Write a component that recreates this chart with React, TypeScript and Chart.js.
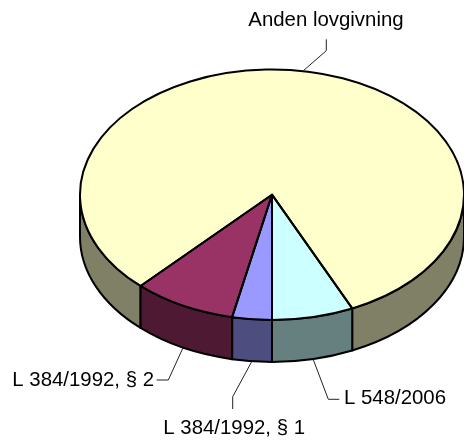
import React, { useEffect, useRef } from "react";
import { Chart, registerables } from "chart.js";

Chart.register(...registerables);

const categories = ["Anden lovgivning", "L 548/2006", "L 384/1992, § 1", "L 384/1992, § 2"];
const shares = [81.14, 6.86, 3.33, 8.67];
const topColors = ["#FFFFCC", "#CCFFFF", "#9999FF", "#993366"];
const sideColors = ["#808066", "#668080", "#4D4D80", "#4D1933"];

const FIRST_SLICE_ROTATION = 223.2;
const CENTER_Y = 194.7;
const SQUASH = 0.652;
const DEPTH = 42;
const FONT = '20.4px "Liberation Sans", Arial, sans-serif';

// Per-category label layout: elbow and end of the leader, then the text origin.
const leaderElbows = [[326.3, 50.7], [328.3, 399.3], [232.7, 396.7], [168.3, 380]];
const leaderEnds = [[326.3, 39.3], [339.3, 399.3], [232.7, 409], [156.7, 380]];
const labelOrigins = [[248.3, 26], [344, 404], [163.3, 434], [12.3, 385.7]];
const onSide = [false, true, true, true];

const project = (cy: number, y: number) => CENTER_Y + (y - cy) * SQUASH;

const pie3d = {
  id: "pie3d",
  beforeDatasetsDraw(chart: any) {
    const ctx = chart.ctx;
    const arcs = chart.getDatasetMeta(0).data;
    ctx.save();
    ctx.lineWidth = 2;
    ctx.lineJoin = "round";
    ctx.strokeStyle = "#000";
    arcs.forEach((el: any, i: number) => {
      const { x, y, startAngle, endAngle, outerRadius: r } = el.getProps(["x", "y", "startAngle", "endAngle", "outerRadius"], true);
      const rx = r;
      const ry = r * SQUASH;
      const cy = project(y, y);
      for (let k = -1; k <= 2; k++) {
        const lo = Math.max(startAngle, k * 2 * Math.PI);
        const hi = Math.min(endAngle, k * 2 * Math.PI + Math.PI);
        if (hi <= lo) continue;
        ctx.beginPath();
        ctx.ellipse(x, cy, rx, ry, 0, lo, hi);
        ctx.ellipse(x, cy + DEPTH, rx, ry, 0, hi, lo, true);
        ctx.closePath();
        ctx.fillStyle = sideColors[i];
        ctx.fill();
        ctx.stroke();
      }
    });
    ctx.restore();
    const first = arcs[0];
    ctx.save();
    ctx.translate(0, CENTER_Y);
    ctx.scale(1, SQUASH);
    ctx.translate(0, -first.y);
  },
  afterDatasetsDraw(chart: any) {
    const ctx = chart.ctx;
    ctx.restore();
    const arcs = chart.getDatasetMeta(0).data;
    ctx.save();
    ctx.lineWidth = 2;
    ctx.lineJoin = "round";
    ctx.strokeStyle = "#000";
    arcs.forEach((el: any) => {
      const { x, y, startAngle, endAngle, outerRadius: r } = el.getProps(["x", "y", "startAngle", "endAngle", "outerRadius"], true);
      const cy = project(y, y);
      ctx.beginPath();
      ctx.moveTo(x, cy);
      ctx.ellipse(x, cy, r, r * SQUASH, 0, startAngle, endAngle);
      ctx.closePath();
      ctx.stroke();
    });
    ctx.restore();

    ctx.save();
    ctx.font = FONT;
    ctx.textBaseline = "alphabetic";
    arcs.forEach((el: any, i: number) => {
      const { x, y, startAngle, endAngle, outerRadius: r } = el.getProps(["x", "y", "startAngle", "endAngle", "outerRadius"], true);
      const mid = (startAngle + endAngle) / 2;
      const ax = x + r * Math.cos(mid);
      const ay = project(y, y) + r * SQUASH * Math.sin(mid) + (onSide[i] ? DEPTH : 0);
      ctx.beginPath();
      ctx.moveTo(ax, ay);
      ctx.lineTo(leaderElbows[i][0], leaderElbows[i][1]);
      ctx.lineTo(leaderEnds[i][0], leaderEnds[i][1]);
      ctx.strokeStyle = "#222";
      ctx.lineWidth = 1;
      ctx.stroke();
      ctx.fillStyle = "#000";
      ctx.fillText(categories[i], labelOrigins[i][0], labelOrigins[i][1]);
    });
    ctx.restore();
  },
};

export default function App() {
  const ref = useRef<HTMLCanvasElement | null>(null);
  useEffect(() => {
    const chart = new Chart(ref.current as HTMLCanvasElement, {
      type: "pie",
      data: {
        labels: categories,
        datasets: [
          {
            data: shares,
            backgroundColor: topColors,
            borderWidth: 0,
            clip: false,
          } as any,
        ],
      },
      options: {
        animation: false,
        responsive: false,
        rotation: FIRST_SLICE_ROTATION,
        layout: { padding: { left: 80, right: -1, top: 0, bottom: 56 } },
        plugins: { legend: { display: false }, tooltip: { enabled: false } },
      },
      plugins: [pie3d],
    } as any);
    return () => chart.destroy();
  }, []);
  return (
    <div style={{ position: "fixed", left: 0, top: 0, width: 464, height: 441, background: "#fff" }}>
      <canvas ref={ref} width={464} height={441} style={{ display: "block" }} />
    </div>
  );
}
